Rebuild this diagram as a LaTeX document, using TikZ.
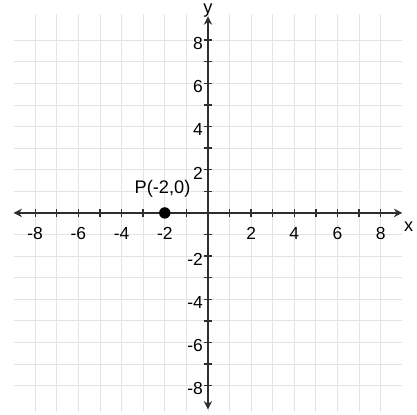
\documentclass[tikz,border=0pt]{standalone}
\usepackage{fontspec}
\setmainfont{Liberation Sans}
\usepackage{tikz}
\usetikzlibrary{arrows.meta,positioning}
\definecolor{axis}{HTML}{2E2E2E}
\definecolor{gridline}{HTML}{E4E4E4}

\tikzset{
  tick/.style={axis, line width=0.9pt},
  ticklabel/.style={font=\fontsize{11.5}{13}\selectfont, inner sep=0pt},
  axisline/.style={axis, line width=1.6pt, {Stealth[length=5.5pt,width=5.5pt]}-{Stealth[length=5.5pt,width=5.5pt]}}
}

\begin{document}
\begin{tikzpicture}[x=0.5cm,y=0.5cm]
  \useasboundingbox (-9.63,-9.35) rectangle (9.68,9.86);

  % Grid
  \foreach \k in {-8,...,8} {
    \draw[gridline, line width=0.6pt] (\k,-9.2) -- (\k,9.2);
    \draw[gridline, line width=0.6pt] (-9,\k) -- (9,\k);
  }

  % Axes
  \coordinate (xl) at (-9,0);
  \coordinate (xr) at (9,0);
  \coordinate (yb) at (0,-9.1);
  \coordinate (yt) at (0,9.1);
  \draw[axisline] (xl) -- (xr);
  \draw[axisline] (yb) -- (yt);
  \node[font=\fontsize{12}{13}\selectfont] (xlab) at (9.3,-0.65) {x};
  \node[font=\fontsize{12}{13}\selectfont] (ylab) at (0,9.38) {y};

  % Ticks and labels
  \foreach \k in {-8,...,-1,1,2,...,8} {
    \draw[tick] (\k,-0.2) -- (\k,0.2);
    \draw[tick] (-0.2,\k) -- (0.2,\k);
  }
  \foreach \k in {-8,-6,-4,-2,2,4,6,8} {
    \node[ticklabel] (xt\k) at (\k,-0.95) {\k};
    \node[ticklabel, anchor=east] (yt\k) at (-0.22,\k-0.15) {\k};
  }

  % Point P
  \node[circle, fill=black, inner sep=0pt, minimum size=7.5pt] (P) at (-2,0) {};
  \node[font=\fontsize{12}{14}\selectfont, above=3pt of P, xshift=-1.5pt] (Plab) {P(-2,0)};
\end{tikzpicture}
\end{document}
